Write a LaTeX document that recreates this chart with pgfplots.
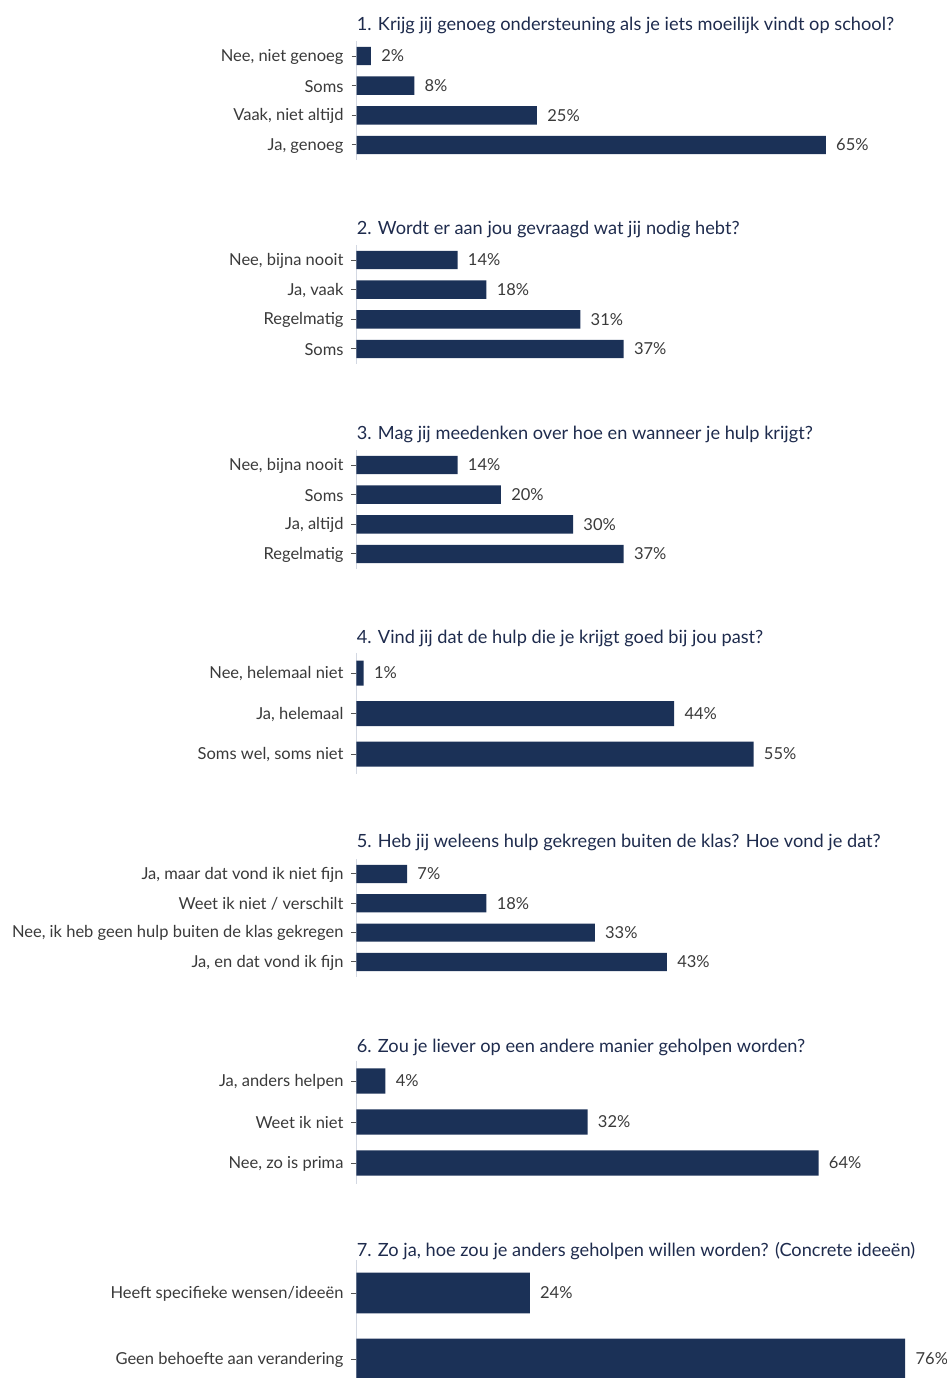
\documentclass[border=0pt]{standalone}
\usepackage{pgfplots}
\pgfplotsset{compat=1.18}
\usepackage{fontspec}
\setmainfont{Lato}
\definecolor{barc}{HTML}{1B3157}
\definecolor{axisc}{HTML}{D3D8E2}
\definecolor{tickc}{HTML}{555555}
\definecolor{labc}{HTML}{3A3A3A}
\definecolor{titc}{HTML}{1E2B4D}
\newcommand{\labfont}{\fontsize{8.25}{9.5}\selectfont}
\newcommand{\titfont}{\fontsize{9.1}{10.5}\selectfont}
\pgfplotsset{
  panel/.style={
    scale only axis, width=288.8pt, xmin=0, xmax=80, y dir=reverse,
    axis x line=none, axis y line=left,
    y axis line style={-, draw=axisc, line width=0.7pt},
    xtick=\empty, ytick=data,
    tick align=outside, major tick length=2.5pt,
    ytick style={draw=tickc, line width=0.5pt},
    yticklabel style={font=\labfont, text=labc, inner sep=0pt, xshift=-3.8pt, yshift=-0.4pt},
    clip=false,
    /pgf/number format/assume math mode=true,
    point meta=x,
    nodes near coords={\pgfmathprintnumber{\pgfplotspointmeta}\%},
    nodes near coords style={font=\labfont, text=labc, anchor=west, inner sep=0pt, xshift=5pt},
  },
  barplot/.style={xbar, fill=barc, draw=none, bar width=0.62},
}
\begin{document}
\begin{tikzpicture}
\useasboundingbox (0,0) rectangle (473.5pt,-689pt);
\tikzset{tit/.style={anchor=west, inner sep=0pt, font=\titfont, text=titc, yshift=-1pt}}
% Panel 1
\node[tit] at (178.25pt,-11.5pt) {1. Krijg jij genoeg ondersteuning als je iets moeilijk vindt op school?};
\begin{axis}[panel, at={(178.25pt,-20.6pt)}, anchor=north west, height=59.3pt, ymin=0.5, ymax=4.5,
  yticklabels={{Nee, niet genoeg},{Soms},{Vaak, niet altijd},{Ja, genoeg}}]
\addplot[barplot] coordinates {(2,1) (8,2) (25,3) (65,4)};
\end{axis}
% Panel 2
\node[tit] at (178.25pt,-113.5pt) {2. Wordt er aan jou gevraagd wat jij nodig hebt?};
\begin{axis}[panel, at={(178.25pt,-122.6pt)}, anchor=north west, height=59.3pt, ymin=0.5, ymax=4.5,
  yticklabels={{Nee, bijna nooit},{Ja, vaak},{Regelmatig},{Soms}}]
\addplot[barplot] coordinates {(14,1) (18,2) (31,3) (37,4)};
\end{axis}
% Panel 3
\node[tit] at (178.25pt,-216pt) {3. Mag jij meedenken over hoe en wanneer je hulp krijgt?};
\begin{axis}[panel, at={(178.25pt,-225.1pt)}, anchor=north west, height=59.3pt, ymin=0.5, ymax=4.5,
  yticklabels={{Nee, bijna nooit},{Soms},{Ja, altijd},{Regelmatig}}]
\addplot[barplot] coordinates {(14,1) (20,2) (30,3) (37,4)};
\end{axis}
% Panel 4
\node[tit] at (178.25pt,-318pt) {4. Vind jij dat de hulp die je krijgt goed bij jou past?};
\begin{axis}[panel, at={(178.25pt,-326.4pt)}, anchor=north west, height=60.75pt, ymin=0.5, ymax=3.5,
  yticklabels={{Nee, helemaal niet},{Ja, helemaal},{Soms wel, soms niet}}]
\addplot[barplot] coordinates {(1,1) (44,2) (55,3)};
\end{axis}
% Panel 5
\node[tit] at (178.25pt,-420pt) {5. Heb jij weleens hulp gekregen buiten de klas? Hoe vond je dat?};
\begin{axis}[panel, at={(178.25pt,-429.65pt)}, anchor=north west, height=58.65pt, ymin=0.5, ymax=4.5,
  yticklabels={{Ja, maar dat vond ik niet fijn},{Weet ik niet / verschilt},{Nee, ik heb geen hulp buiten de klas gekregen},{Ja, en dat vond ik fijn}}]
\addplot[barplot] coordinates {(7,1) (18,2) (33,3) (43,4)};
\end{axis}
% Panel 6
\node[tit] at (178.25pt,-522.5pt) {6. Zou je liever op een andere manier geholpen worden?};
\begin{axis}[panel, at={(178.25pt,-530.25pt)}, anchor=north west, height=61.5pt, ymin=0.5, ymax=3.5,
  yticklabels={{Ja, anders helpen},{Weet ik niet},{Nee, zo is prima}}]
\addplot[barplot] coordinates {(4,1) (32,2) (64,3)};
\end{axis}
% Panel 7
\node[tit] at (178.25pt,-624.5pt) {7. Zo ja, hoe zou je anders geholpen willen worden? (Concrete ideeën)};
\begin{axis}[panel, at={(178.25pt,-630pt)}, anchor=north west, height=59.4pt, ymin=0.5, ymax=2.3,
  yticklabels={{Heeft specifieke wensen/ideeën},{Geen behoefte aan verandering}}]
\addplot[barplot] coordinates {(24,1) (76,2)};
\end{axis}
\end{tikzpicture}
\end{document}
